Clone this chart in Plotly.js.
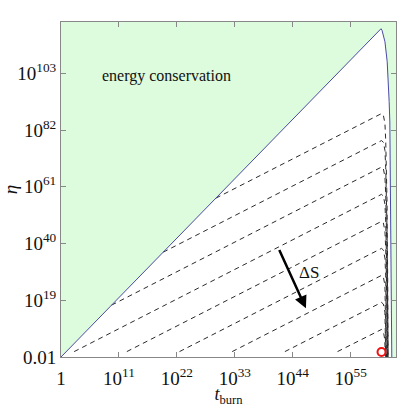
<!DOCTYPE html>
<html>
<head>
<meta charset="utf-8">
<script src="https://cdn.plot.ly/plotly-3.0.1.min.js"></script>
<style>html,body{margin:0;padding:0;background:#fff;}</style>
</head>
<body>
<div id="chart" style="width:400px;height:407px;"></div>
<script>
// Values are log10 exponents (t_burn, eta)
const blueLogT   = [0, 60.75, 60.95, 61.2, 61.5, 61.93, 62.1, 62.3, 62.43, 62.5, 62.6, 62.7, 62.8];
const blueLogEta = [-2, 119.5, 118.9, 117.2, 114.7, 107.3, 102.4, 92.6, 85, 60.5, 37, 11.5, -2];

const dashLogT = [
  [29.4, 60.5, 60.85, 61.2, 61.5, 61.65, 61.78, 61.9, 62.05, 62.1],
  [19.4, 60.5, 60.85, 61.2, 61.5, 61.65, 61.78, 61.9, 62.05, 62.1],
  [9.6, 60.5, 60.85, 61.2, 61.5, 61.65, 61.78, 61.9, 62.05],
  [2.5, 60.5, 60.85, 61.2, 61.5, 61.65, 61.78, 61.9, 62.0],
  [12.5, 60.5, 60.85, 61.2, 61.5, 61.65, 61.78, 61.92],
  [22.5, 60.5, 60.85, 61.2, 61.5, 61.65, 61.8],
  [32.5, 60.5, 60.85, 61.2, 61.5, 61.72],
  [42.5, 60.5, 60.85, 61.2, 61.5, 61.65],
  [52.5, 60.5, 60.85, 61.2, 61.45, 61.6]
];
const dashLogEta = [
  [56.8, 87.9, 88.1, 87.5, 84.5, 78, 68, 55, 20, -2],
  [36.8, 77.9, 78.1, 77.5, 74.5, 68, 58, 45, 10, -2],
  [17.2, 68.1, 68.3, 67.7, 64.7, 58, 48, 35, -2],
  [0, 58.0, 58.2, 57.6, 54.6, 48, 38, 25, -2],
  [0, 48.0, 48.2, 47.6, 44.6, 38, 28, -2],
  [0, 38.0, 38.2, 37.6, 34.6, 28, -2],
  [0, 28.0, 28.2, 27.6, 24.6, -2],
  [0, 18.0, 18.2, 17.6, 14.6, -2],
  [0, 8.0, 8.2, 7.6, 4.6, -2]
];

const pointLogT = [60.85];
const pointLogEta = [-0.15];

const xTickVals = [1, 1e11, 1e22, 1e33, 1e44, 1e55];
const xTickText = ['1', '10<sup>11</sup>', '10<sup>22</sup>', '10<sup>33</sup>', '10<sup>44</sup>', '10<sup>55</sup>'];
const yTickVals = [0.01, 1e19, 1e40, 1e61, 1e82, 1e103];
const yTickText = ['0.01', '10<sup>19</sup>', '10<sup>40</sup>', '10<sup>61</sup>', '10<sup>82</sup>', '10<sup>103</sup>'];

const p10 = a => a.map(v => Math.pow(10, v));

const traces = [];
// white allowed region under the energy-conservation bound
traces.push({
  x: p10(blueLogT), y: p10(blueLogEta), type: 'scatter', mode: 'lines',
  fill: 'toself', fillcolor: '#ffffff', line: {width: 0}, hoverinfo: 'skip', showlegend: false
});
for (let i = 0; i < dashLogT.length; i++) {
  traces.push({
    x: p10(dashLogT[i]), y: p10(dashLogEta[i]), type: 'scatter', mode: 'lines',
    line: {color: '#2a2a2a', width: 1, dash: '5px,4px'}, showlegend: false
  });
}
traces.push({
  x: p10(blueLogT), y: p10(blueLogEta), type: 'scatter', mode: 'lines',
  line: {color: '#4a4aa6', width: 1}, showlegend: false
});
traces.push({
  x: p10(pointLogT), y: p10(pointLogEta), type: 'scatter', mode: 'markers',
  marker: {symbol: 'circle', size: 8, color: '#ffffff', line: {color: '#ee1111', width: 2}},
  showlegend: false, cliponaxis: false
});

const axisCommon = {
  type: 'log', showgrid: false, zeroline: false,
  showline: true, linecolor: '#888888', linewidth: 1, mirror: 'ticks',
  ticks: 'inside', ticklen: 5, tickcolor: '#888888', tickwidth: 1,
  tickfont: {family: 'Liberation Serif, serif', size: 19, color: '#111'}
};

const layout = {
  width: 400, height: 407,
  margin: {l: 61, r: 4, t: 22, b: 50},
  paper_bgcolor: '#ffffff',
  plot_bgcolor: '#ddfbdd',
  font: {family: 'Liberation Serif, serif', color: '#111'},
  xaxis: Object.assign({}, axisCommon, {
    range: [0, 63.6], tickmode: 'array', tickvals: xTickVals, ticktext: xTickText,
    ticklabelstandoff: 4,
    title: {text: '<i>t</i><sub>burn</sub>', font: {family: 'Liberation Serif, serif', size: 18}, standoff: 2}
  }),
  yaxis: Object.assign({}, axisCommon, {
    range: [-2, 122], tickmode: 'array', tickvals: yTickVals, ticktext: yTickText,
    title: {text: '<i>η</i>', font: {family: 'Liberation Serif, serif', size: 19}, standoff: 0}
  }),
  annotations: [
    {x: 20.1, y: 102.0, xref: 'x', yref: 'y', text: 'energy conservation', showarrow: false,
     font: {family: 'Liberation Serif, serif', size: 16, color: '#111'}},
    {x: 47.1, y: 29.3, xref: 'x', yref: 'y', text: 'ΔS', showarrow: false,
     font: {family: 'Liberation Serif, serif', size: 17, color: '#111'}},
    {x: 46.5, y: 16.0, xref: 'x', yref: 'y', ax: 41.4, ay: 37.8, axref: 'x', ayref: 'y',
     text: '', font: {size: 1}, borderpad: 0, standoff: 0, startstandoff: 0,
     showarrow: true, arrowhead: 2, arrowsize: 1, arrowwidth: 2.5, arrowcolor: '#000'}
  ]
};

Plotly.newPlot('chart', traces, layout, {displayModeBar: false, staticPlot: true});
</script>
</body>
</html>
